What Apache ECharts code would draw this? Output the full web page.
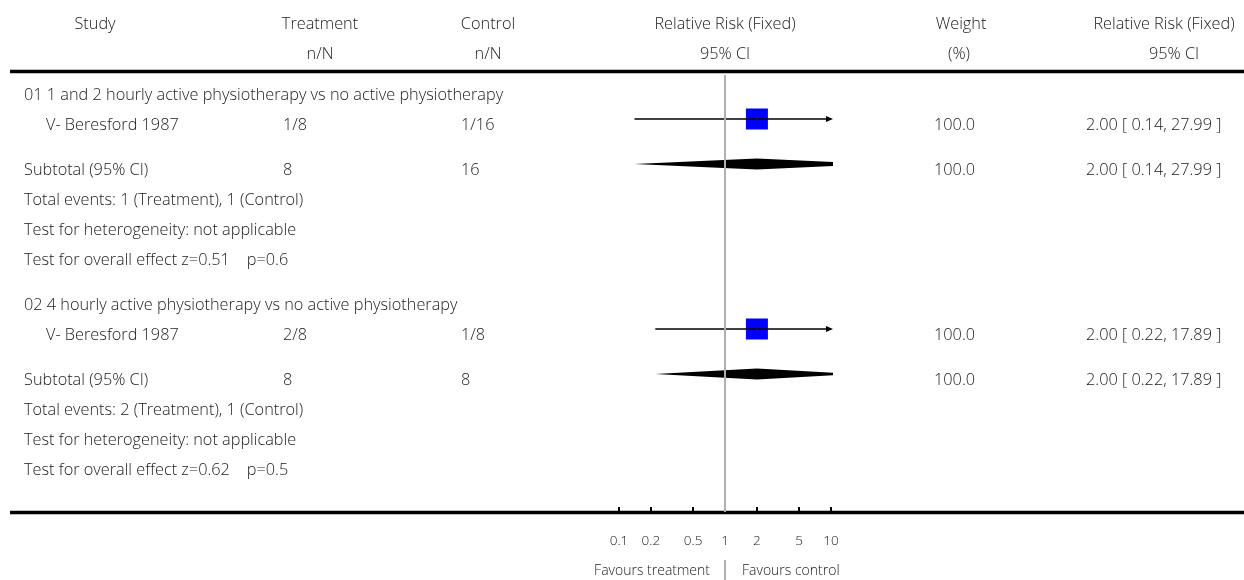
<!DOCTYPE html>
<html>
<head>
<meta charset="utf-8">
<script src="https://cdn.jsdelivr.net/npm/echarts@6/dist/echarts.min.js"></script>
<style>
html,body{margin:0;padding:0;background:#fff;}
#chart{width:1244px;height:580px;}
</style>
</head>
<body>
<div id="chart"></div>
<script>
// ---------- data ----------
const groupTitles = ['01 1 and 2 hourly active physiotherapy vs no active physiotherapy',
                     '02 4 hourly active physiotherapy vs no active physiotherapy'];
const studyNames = ['V- Beresford 1987', 'V- Beresford 1987'];
const treatNN = ['1/8', '2/8'];
const ctrlNN = ['1/16', '1/8'];
const studyWeight = ['100.0', '100.0'];
const studyRR = [2.00, 2.00];
const studyLo = [0.14, 0.22];
const studyHi = [27.99, 17.89];
const subTreatN = [8, 8];
const subCtrlN = [16, 8];
const subWeight = ['100.0', '100.0'];
const subRR = [2.00, 2.00];
const subLo = [0.14, 0.22];
const subHi = [27.99, 17.89];
const eventsTreat = [1, 2];
const eventsCtrl = [1, 1];
const heterogeneity = ['not applicable', 'not applicable'];
const zValues = ['0.51', '0.62'];
const pValues = ['0.6', '0.5'];
const tickValues = [0.1, 0.2, 0.5, 1, 2, 5, 10];
const tickLabels = ['0.1', '0.2', '0.5', '1', '2', '5', '10'];

// ---------- layout ----------
const FONT = '"Open Sans", Lato, sans-serif';
const FS = 16.3;
const groupStartRow = [0, 7];
const XMIN = 0.1, XMAX = 10;
const fmt = v => v.toFixed(2);

const studyPts = [], ciData = [], diamondData = [];
groupStartRow.forEach((r0, g) => {
  studyPts.push([studyRR[g], r0 + 1]);
  ciData.push([studyLo[g], studyHi[g], studyRR[g], r0 + 1]);
  diamondData.push([subLo[g], subHi[g], subRR[g], r0 + 2.5]);
});

const chart = echarts.init(document.getElementById('chart'), null, {renderer: 'canvas'});

chart.setOption({
  animation: false,
  backgroundColor: '#fff',
  grid: {left: 619, width: 212, top: 2, height: 510},
  xAxis: {
    type: 'log', logBase: 10, min: XMIN, max: XMAX,
    axisLine: {show: false, onZero: false},
    axisTick: {show: true, inside: true, length: 5, customValues: tickValues,
               lineStyle: {color: '#000', width: 2}},
    axisLabel: {show: true, customValues: tickValues, margin: 22,
                fontFamily: FONT, fontWeight: 300, fontSize: 13.5, color: '#1a1a1a',
                formatter: v => tickLabels[tickValues.findIndex(t => Math.abs(t - v) < 1e-9)] ?? ''},
    splitLine: {show: false}
  },
  yAxis: {type: 'value', inverse: true, min: -2.9, max: 14.1, show: false},
  series: [
    {
      type: 'scatter', data: studyPts, symbol: 'rect', symbolSize: [22, 21],
      itemStyle: {color: '#0000ff', opacity: 1}, z: 3, silent: true,
      markLine: {
        silent: true, symbol: 'none', label: {show: false},
        lineStyle: {color: '#b0b0b0', width: 2, type: 'solid', opacity: 1},
        data: [[{coord: [1, -0.47]}, {coord: [1, 14.1]}]]
      }
    },
    {
      type: 'custom', data: ciData, z: 4, silent: true,
      renderItem: (params, api) => {
        const lo = api.value(0), hi = api.value(1), est = api.value(2), row = api.value(3);
        const p1 = api.coord([Math.max(lo, XMIN), row]);
        const p2 = api.coord([Math.min(hi, XMAX), row]);
        const pe = api.coord([est, row]);
        const children = [
          {type: 'line', shape: {x1: p1[0], y1: p1[1], x2: p2[0], y2: p2[1]},
           style: {stroke: '#000', lineWidth: 1.3}},
          {type: 'line', shape: {x1: pe[0], y1: pe[1] - 2.5, x2: pe[0], y2: pe[1] + 2.5},
           style: {stroke: '#222', lineWidth: 1}}
        ];
        if (hi > XMAX) {
          children.push({type: 'polygon',
            shape: {points: [[p2[0] + 2, p2[1]], [p2[0] - 5, p2[1] - 3], [p2[0] - 5, p2[1] + 3]]},
            style: {fill: '#000'}});
        }
        if (lo < XMIN) {
          children.push({type: 'polygon',
            shape: {points: [[p1[0] - 2, p1[1]], [p1[0] + 5, p1[1] - 3], [p1[0] + 5, p1[1] + 3]]},
            style: {fill: '#000'}});
        }
        return {type: 'group', children};
      }
    },
    {
      type: 'custom', data: diamondData, z: 4, silent: true,
      renderItem: (params, api) => {
        const lo = api.value(0), hi = api.value(1), est = api.value(2), row = api.value(3);
        const H = 5.5;
        const pe = api.coord([est, row]);
        const pl = api.coord([lo, row]);
        const ph = api.coord([hi, row]);
        const pts = [];
        if (lo < XMIN) {
          const xc = api.coord([XMIN, row])[0];
          const h = H * (xc - pl[0]) / (pe[0] - pl[0]);
          pts.push([xc, pe[1] + h], [xc, pe[1] - h]);
        } else pts.push([pl[0], pe[1]]);
        pts.push([pe[0], pe[1] - H]);
        if (hi > XMAX) {
          const xc = api.coord([XMAX, row])[0] + 2;
          const h = H * (ph[0] - xc) / (ph[0] - pe[0]);
          pts.push([xc, pe[1] - h], [xc, pe[1] + h]);
        } else pts.push([ph[0], pe[1]]);
        pts.push([pe[0], pe[1] + H]);
        return {type: 'polygon', shape: {points: pts}, style: {fill: '#000'}};
      }
    }
  ]
});

// ---------- table text & rules ----------
const yPix = r => chart.convertToPixel({yAxisIndex: 0}, r);
const xPix = v => chart.convertToPixel({xAxisIndex: 0}, v);
const TXT_OFF = 6;
const g = [];
function txt(text, x, y, align, size) {
  g.push({type: 'text', x: x, y: y, silent: true,
    style: {text: text, fill: '#1a1a1a', font: '300 ' + (size || FS) + 'px ' + FONT,
            textAlign: align || 'left', textVerticalAlign: 'middle'}});
}
function hline(x1, x2, y, w, color) {
  g.push({type: 'line', silent: true, shape: {x1, y1: y, x2, y2: y},
          style: {stroke: color || '#000', lineWidth: w}});
}

// header
txt('Study', 95, 24, 'center');
txt('Treatment', 320, 24, 'center');
txt('n/N', 320, 54, 'center');
txt('Control', 488, 24, 'center');
txt('n/N', 488, 54, 'center');
txt('Relative Risk (Fixed)', 725, 24, 'center');
txt('95% CI', 725, 54, 'center');
txt('Weight', 961, 24, 'center');
txt('(%)', 959, 54, 'center');
txt('Relative Risk (Fixed)', 1164, 24, 'center');
txt('95% CI', 1174, 54, 'center');
hline(10, 1244, 71.5, 3.5);

const COL_STUDY = 24, COL_STUDY_IND = 46, COL_T = 283, COL_C = 461, COL_W = 934, COL_RR = 1086;
groupStartRow.forEach((r0, i) => {
  txt(groupTitles[i], COL_STUDY, yPix(r0) + TXT_OFF);
  const ys = yPix(r0 + 1) + TXT_OFF;
  txt(studyNames[i], COL_STUDY_IND, ys);
  txt(treatNN[i], COL_T, ys);
  txt(ctrlNN[i], COL_C, ys);
  txt(studyWeight[i], COL_W, ys);
  txt(fmt(studyRR[i]) + ' [ ' + fmt(studyLo[i]) + ', ' + fmt(studyHi[i]) + ' ]', COL_RR, ys);
  const yt = yPix(r0 + 2.5) + TXT_OFF;
  txt('Subtotal (95% CI)', COL_STUDY, yt);
  txt(String(subTreatN[i]), COL_T, yt);
  txt(String(subCtrlN[i]), COL_C, yt);
  txt(subWeight[i], COL_W, yt);
  txt(fmt(subRR[i]) + ' [ ' + fmt(subLo[i]) + ', ' + fmt(subHi[i]) + ' ]', COL_RR, yt);
  txt('Total events: ' + eventsTreat[i] + ' (Treatment), ' + eventsCtrl[i] + ' (Control)', COL_STUDY, yPix(r0 + 3.5) + TXT_OFF);
  txt('Test for heterogeneity: ' + heterogeneity[i], COL_STUDY, yPix(r0 + 4.5) + TXT_OFF);
  txt('Test for overall effect z=' + zValues[i] + '    p=' + pValues[i], COL_STUDY, yPix(r0 + 5.5) + TXT_OFF);
});

// bottom axis rule across full width
const yAxisLine = 512.5;
hline(10, 1244, yAxisLine, 3.5);
const x1 = xPix(1);
g.push({type: 'line', silent: true, shape: {x1: x1, y1: 560, x2: x1, y2: 580},
        style: {stroke: '#b0b0b0', lineWidth: 2}});
txt('Favours treatment', x1 - 15, 571, 'right', 14);
txt('Favours control', x1 + 17, 571, 'left', 14);

chart.setOption({graphic: g});
</script>
</body>
</html>
